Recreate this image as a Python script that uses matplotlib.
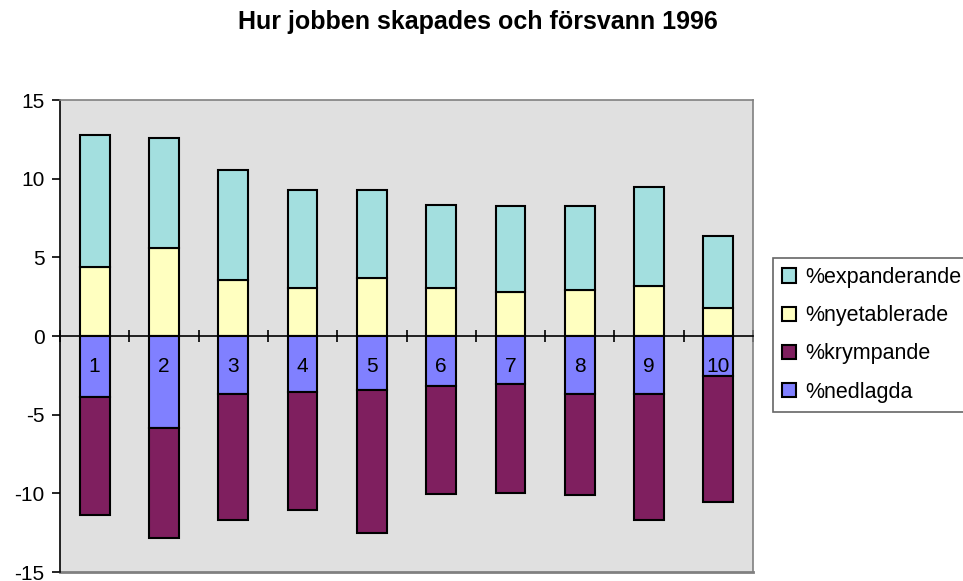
import matplotlib
matplotlib.use("Agg")
import matplotlib.pyplot as plt
import numpy as np

plt.rcParams['font.family'] = ['Liberation Sans', 'DejaVu Sans']

categories = ['1', '2', '3', '4', '5', '6', '7', '8', '9', '10']
expanderande = [8.4, 7.0, 7.0, 6.2, 5.6, 5.3, 5.45, 5.35, 6.35, 4.6]
nyetablerade = [4.4, 5.6, 3.55, 3.05, 3.7, 3.05, 2.8, 2.9, 3.15, 1.75]
krympande = [-7.5, -7.0, -8.0, -7.5, -9.05, -6.85, -6.9, -6.4, -8.0, -8.0]
nedlagda = [-3.9, -5.85, -3.7, -3.55, -3.45, -3.2, -3.05, -3.7, -3.7, -2.55]
yticks = [-15, -10, -5, 0, 5, 10, 15]

c_exp = '#A3DFDF'
c_ny = '#FFFFC0'
c_kr = '#7F1F5F'
c_ned = '#8080FF'

fig = plt.figure(figsize=(9.63, 5.81), dpi=100)
ax = fig.add_axes([60/963, 9/581, 693/963, 472/581])
ax.set_facecolor('#E0E0E0')

x = np.arange(1, len(categories) + 1)
w = 0.43
kw = dict(width=w, edgecolor='black', linewidth=1.5, zorder=3)
b_ny = ax.bar(x, nyetablerade, color=c_ny, **kw)
b_exp = ax.bar(x, expanderande, bottom=nyetablerade, color=c_exp, **kw)
b_ned = ax.bar(x, nedlagda, color=c_ned, **kw)
b_kr = ax.bar(x, krympande, bottom=nedlagda, color=c_kr, **kw)

ax.set_xlim(0.5, len(categories) + 0.5)
ax.set_ylim(-15, 15)
ax.set_yticks(yticks)
ax.set_yticklabels([str(t) for t in yticks], fontsize=15)
ax.tick_params(axis='y', direction='out', length=6, width=1.2, pad=5, colors='black')

# x axis at zero
ax.spines['bottom'].set_position(('data', 0))
ax.spines['bottom'].set_linewidth(1.2)
ax.spines['bottom'].set_zorder(4)
ax.set_xticks(np.arange(0.5, len(categories) + 1, 1.0))
ax.set_xticklabels([])
ax.tick_params(axis='x', direction='inout', length=9, width=1.2)

for xi, lab in zip(x, categories):
    ax.annotate(lab, xy=(xi, 0), xytext=(0, -31), textcoords='offset pixels',
                ha='center', va='center', fontsize=15, zorder=5)

ax.spines['left'].set_linewidth(1.2)
for s in ['top', 'right']:
    ax.spines[s].set_color('#808080')
    ax.spines[s].set_linewidth(1.2)

# bottom border of plot area (grey)
ax.axhline(-15, color='#808080', linewidth=2.0, zorder=2, clip_on=False)

fig.suptitle('Hur jobben skapades och försvann 1996', x=478/963, y=1 - 22/581,
             va='center', fontsize=18, fontweight='bold')

handles = [b_exp, b_ny, b_kr, b_ned]
labels = ['%expanderande', '%nyetablerade', '%krympande', '%nedlagda']
leg = fig.legend(handles, labels, loc='upper left', bbox_to_anchor=(773/963, 1 - 258/581),
                 fontsize=15.5, frameon=True, fancybox=False, borderpad=0.42,
                 handlelength=0.65, handleheight=0.65, handletextpad=0.42,
                 labelspacing=0.8, borderaxespad=0)
leg.get_frame().set_edgecolor('#404040')
leg.get_frame().set_linewidth(1.2)

fig.savefig('out.png', dpi=100)
